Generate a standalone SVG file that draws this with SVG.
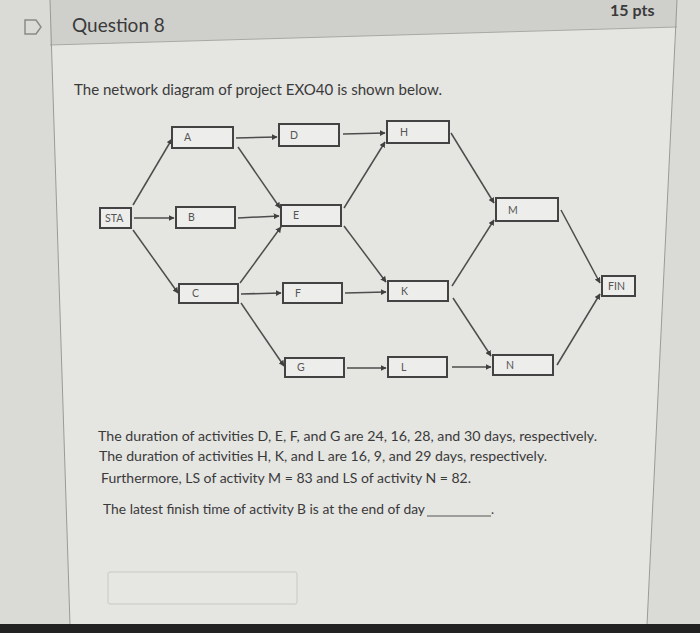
<svg xmlns="http://www.w3.org/2000/svg" width="700" height="633" viewBox="0 0 700 633">
<defs>
<style>
.node rect{fill:#ededeb;stroke:#434343;stroke-width:2}
.node text{font-family:Lato,"Liberation Sans",sans-serif;font-size:10.5px;fill:#555}
.edge{stroke:#4d4d4d;stroke-width:1.5;fill:none;marker-end:url(#ah)}
.body{font-family:Lato,"Liberation Sans",sans-serif;fill:#3a3a3a}
</style>
<marker id="ah" viewBox="0 0 10 10" refX="9" refY="5" markerWidth="6" markerHeight="6" markerUnits="userSpaceOnUse" orient="auto">
<path d="M0,0 L10,5 L0,10 z" fill="#404040"/>
</marker>
</defs>
<rect x="0" y="0" width="700" height="633" fill="#dadad7"/>
<polygon points="50,0 677,0 647,625 70,625" fill="#e5e5e2"/>
<polygon points="50,0 677,0 677,27 50,45" fill="#cfcfcc"/>
<line x1="50" y1="45" x2="677" y2="27" stroke="#a8a8a5" stroke-width="1"/>
<line x1="50" y1="0" x2="70" y2="625" stroke="#9a9a97" stroke-width="1"/>
<line x1="677" y1="0" x2="647" y2="625" stroke="#9a9a97" stroke-width="1"/>
<rect x="0" y="624" width="700" height="9" fill="#222"/>
<path d="M25,20 L36,20 L41,27 L36,34 L25,34 Z" fill="none" stroke="#8a8a88" stroke-width="1.5"/>
<text class="body" x="72" y="32" font-size="19" fill="#2e2e2e">Question 8</text>
<text class="body" x="610" y="16" font-size="16" font-weight="bold" fill="#444">15 pts</text>
<text class="body" x="74" y="95" font-size="15" textLength="368" lengthAdjust="spacingAndGlyphs">The network diagram of project EXO40 is shown below.</text>

<g id="connectors">
<line class="edge" x1="133" y1="205" x2="172" y2="139"/>
<line class="edge" x1="134" y1="218" x2="174" y2="218"/>
<line class="edge" x1="133" y1="230" x2="178" y2="293"/>
<line class="edge" x1="236" y1="138" x2="277" y2="137"/>
<line class="edge" x1="238" y1="147" x2="280" y2="208"/>
<line class="edge" x1="238" y1="218" x2="279" y2="216"/>
<line class="edge" x1="240" y1="283" x2="281" y2="227"/>
<line class="edge" x1="241" y1="294" x2="281" y2="293"/>
<line class="edge" x1="241" y1="303" x2="284" y2="366"/>
<line class="edge" x1="343" y1="134" x2="385" y2="133"/>
<line class="edge" x1="344" y1="208" x2="385" y2="142"/>
<line class="edge" x1="344" y1="226" x2="386" y2="282"/>
<line class="edge" x1="345" y1="293" x2="386" y2="292"/>
<line class="edge" x1="347" y1="368" x2="386" y2="368"/>
<line class="edge" x1="451" y1="133" x2="494" y2="203"/>
<line class="edge" x1="452" y1="286" x2="494" y2="220"/>
<line class="edge" x1="453" y1="298" x2="491" y2="356"/>
<line class="edge" x1="452" y1="367" x2="491" y2="367"/>
<line class="edge" x1="561" y1="210" x2="600" y2="283"/>
<line class="edge" x1="557" y1="365" x2="600" y2="294"/>
</g>

<g id="STA" class="node"><rect x="100" y="208" width="31" height="20"/><text x="105" y="222">STA</text></g>
<g id="A" class="node"><rect x="172" y="127" width="61" height="21"/><text x="184" y="141">A</text></g>
<g id="B" class="node"><rect x="176" y="207" width="59" height="21"/><text x="188" y="221">B</text></g>
<g id="C" class="node"><rect x="179" y="284" width="59" height="19"/><text x="192" y="297">C</text></g>
<g id="D" class="node"><rect x="279" y="124" width="60" height="22"/><text x="290" y="139">D</text></g>
<g id="E" class="node"><rect x="281" y="205" width="60" height="21"/><text x="293" y="219">E</text></g>
<g id="F" class="node"><rect x="283" y="283" width="59" height="20"/><text x="295" y="297">F</text></g>
<g id="G" class="node"><rect x="285" y="358" width="59" height="19"/><text x="297" y="371">G</text></g>
<g id="H" class="node"><rect x="387" y="121" width="62" height="22"/><text x="400" y="136">H</text></g>
<g id="K" class="node"><rect x="388" y="281" width="60" height="20"/><text x="401" y="295">K</text></g>
<g id="L" class="node"><rect x="388" y="357" width="59" height="20"/><text x="401" y="371">L</text></g>
<g id="M" class="node"><rect x="496" y="198" width="62" height="23"/><text x="508" y="214">M</text></g>
<g id="N" class="node"><rect x="493" y="355" width="60" height="20"/><text x="506" y="369">N</text></g>
<g id="FIN" class="node"><rect x="602" y="276" width="33" height="20"/><text x="608" y="290">FIN</text></g>

<text class="body" x="98" y="441" font-size="13" textLength="499" lengthAdjust="spacingAndGlyphs">The duration of activities D, E, F, and G are 24, 16, 28, and 30 days, respectively.</text>
<text class="body" x="99" y="461" font-size="13" textLength="448" lengthAdjust="spacingAndGlyphs">The duration of activities H, K, and L are 16, 9, and 29 days, respectively.</text>
<text class="body" x="101" y="483" font-size="13" textLength="370" lengthAdjust="spacingAndGlyphs">Furthermore, LS of activity M = 83  and LS of activity N = 82.</text>
<text class="body" x="103" y="514" font-size="13" textLength="322" lengthAdjust="spacingAndGlyphs">The latest finish time of activity B is at the end of day</text>
<line x1="427" y1="516" x2="491" y2="516" stroke="#555" stroke-width="1"/>
<text class="body" x="491" y="514" font-size="13">.</text>
<rect x="108" y="572" width="189" height="32" rx="2" fill="#e6e6e3" stroke="#c8c8c5" stroke-width="1"/>
</svg>
